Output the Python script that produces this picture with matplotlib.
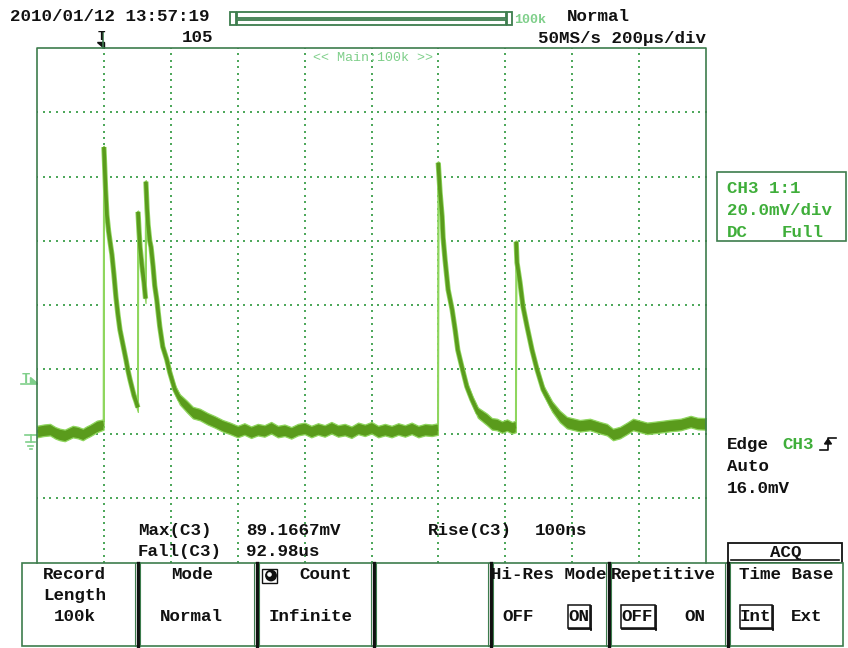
import matplotlib
matplotlib.use('Agg')
import matplotlib.pyplot as plt
import numpy as np
from matplotlib.patches import Rectangle, Polygon, Circle

# CH3 capture, 200us/div, 20mV/div, trigger at t=0
TIME_US = [
    -200, -180, -161, -145, -132, -117, -105, -93, -78, -63, -52, -42, -21, -1,
    0, 2, 5, 9, 14, 18, 24, 30, 36, 42, 48, 54, 60, 66, 72, 78, 84, 90, 96, 101.5,
    102, 105, 108, 114, 120, 124.5,
    125.5, 129, 132, 137, 141, 147, 152, 158, 167, 176, 188, 197, 212, 227, 248,
    266, 287, 310, 332, 355, 377,
    400, 420, 440, 460, 480, 500, 520, 540, 560, 580, 600, 620, 640, 660, 680,
    700, 720, 740, 760, 780, 800, 820, 840, 860, 880, 900, 920, 940, 960, 980, 998.5,
    999.5, 1002, 1005, 1011, 1014, 1020, 1029, 1041, 1050, 1058, 1070, 1085, 1100,
    1118, 1145, 1160, 1175, 1190, 1205, 1220, 1231.5,
    1232.5, 1235, 1244, 1253, 1265, 1280, 1295, 1313, 1340, 1363, 1384,
    1423, 1453, 1483, 1504, 1522, 1543, 1564, 1582, 1603, 1624, 1648, 1672, 1694,
    1724, 1754, 1775, 1800,
]
LEVEL_MV = [
    0.6, 1.0, 1.2, 0.2, -0.3, -0.6, 0.0, 0.6, 0.3, -0.3, 0.4, 0.9, 2.2, 2.8,
    89.17, 84, 76, 68, 63, 60, 55.7, 49.5, 42.5, 37, 32.3, 29.2, 26.1, 23, 19.6,
    16.8, 14.3, 11.8, 10, 8.1,
    69, 63, 58, 52, 47, 42,
    78.4, 70, 65, 60, 58, 52, 46, 41.7, 33.3, 27, 23, 19, 13.7, 10.6, 8.4,
    6.5, 5.9, 4.6, 3.6, 2.4, 1.6,
    0.6, 1.4, 0.4, 1.2, 0.8, 1.8, 0.6, 1.0, 0.2, 1.2, 1.6, 0.6, 1.4, 0.8, 1.8,
    0.8, 1.2, 0.4, 1.6, 1.0, 1.8, 0.6, 1.2, 0.6, 1.4, 0.8, 1.6, 0.6, 1.2, 1.0, 1.4,
    84.3, 80, 75, 67.5, 61, 54, 44.8, 38.6, 32.3, 26, 20.8, 14.6, 10.6,
    6.5, 4.4, 3.0, 2.8, 2.0, 2.6, 1.8, 2.2,
    59.7, 53.2, 47, 39.5, 33.3, 26, 19.9, 13.7, 8.4, 5.3, 3.4,
    2.4, 2.8, 1.8, 1.2, -0.3, 0.3, 1.6, 2.8, 2.2, 1.6, 1.9, 2.2, 2.5,
    2.8, 3.7, 3.1, 3.0,
]
# half-width of the noise band around the trace
SPREAD_MV = [
    1.8, 1.8, 1.8, 1.8, 1.8, 1.8, 1.8, 1.8, 1.8, 1.8, 1.8, 1.8, 1.8, 1.6,
    0.4, 1.2, 1.6, 1.4, 1.2, 1.2, 1.2, 1.2, 1.2, 1.0, 1.0, 1.0, 1.0, 1.0, 1.2,
    1.2, 1.2, 1.2, 1.4, 1.4,
    0.4, 1.4, 1.4, 1.2, 1.4, 1.4,
    0.4, 1.4, 1.4, 1.2, 1.2, 1.2, 1.2, 1.2, 1.2, 1.2, 1.2, 1.4, 1.4, 1.6, 1.8,
    1.8, 1.8, 1.8, 1.8, 1.8, 1.8,
    1.8, 1.8, 1.8, 1.8, 1.8, 1.8, 1.8, 1.8, 1.8, 1.8, 1.8, 1.8, 1.8, 1.8, 1.8,
    1.8, 1.8, 1.8, 1.8, 1.8, 1.8, 1.8, 1.8, 1.8, 1.8, 1.8, 1.8, 1.8, 1.8, 1.8, 1.8,
    0.4, 1.2, 1.4, 1.4, 1.2, 1.2, 1.2, 1.2, 1.2, 1.2, 1.2, 1.4, 1.4,
    1.6, 1.8, 1.8, 1.8, 1.8, 1.8, 1.8, 1.8,
    0.4, 1.2, 1.2, 1.2, 1.2, 1.2, 1.2, 1.4, 1.6, 1.8, 1.8,
    1.8, 1.8, 1.8, 1.8, 1.8, 1.8, 1.8, 1.8, 1.8, 1.8, 1.8, 1.8, 1.8,
    1.8, 1.8, 1.8, 1.8,
]

MEAS_NAMES = ["Max(C3)", "Fall(C3)", "Rise(C3)"]
MEAS_VALUES = ["89.1667mV", "92.98us", "100ns"]

MENU_TITLES = ["Record\nLength", "Mode", "Count", "", "Hi-Res Mode", "Repetitive", "Time Base"]
MENU_VALUES = ["100k", "Normal", "Infinite", "", "", "", ""]

MONO = 'Liberation Mono'
FRAME = '#3d7d4d'
DOT = '#4fa85c'
LIGHT = '#7fcf8a'
CHGREEN = '#3fae3a'
TRACE = '#5a9b1c'
TRACE_EDGE = '#8fd65e'

W, H = 848, 648
fig = plt.figure(figsize=(W / 100, H / 100), dpi=100)
fig.patch.set_facecolor('white')

# graticule area: 10 x 8 divisions
x0, x1, y0, y1 = 37, 706, 48, 562
ax = fig.add_axes([x0 / W, (H - y1) / H, (x1 - x0) / W, (y1 - y0) / H])
ax.set_xlim(-200, 1800)
ax.set_ylim(-40, 120)
ax.axis('off')

# dotted grid
for tv in range(0, 1800, 200):
    ys = np.arange(-40, 121, 2)
    ax.plot([tv] * len(ys), ys, ls='none', marker='s', ms=1.5, mew=0, color=DOT, zorder=1)
for mv in range(-20, 120, 20):
    xs = np.arange(-200, 1801, 20)
    ax.plot(xs, [mv] * len(xs), ls='none', marker='s', ms=1.5, mew=0, color=DOT, zorder=1)

t = np.array(TIME_US, dtype=float)
v = np.array(LEVEL_MV, dtype=float)
s = np.array(SPREAD_MV, dtype=float)

# fast edges stay thin, the slow parts get a thick stroke
jumps = np.where(np.abs(np.diff(v)) > 15)[0]
starts = np.concatenate([[0], jumps + 1])
ends = np.concatenate([jumps + 1, [len(t)]])
for j in jumps:
    ax.plot(t[j:j + 2], v[j:j + 2], color=TRACE_EDGE, lw=1.3, zorder=2.8)
for a, b in zip(starts, ends):
    ax.plot(t[a:b], v[a:b], color=TRACE_EDGE, lw=3.8, solid_capstyle='butt', zorder=2.9)

# noise band
ax.fill_between(t, v - s, v + s, facecolor=TRACE, edgecolor=TRACE_EDGE,
                linewidth=0.9, zorder=3)
for a, b in zip(starts, ends):
    ax.plot(t[a:b], v[a:b], color=TRACE, lw=2.6, solid_capstyle='butt', zorder=3.6)

# overlay in pixel coordinates for the screen furniture
ui = fig.add_axes([0, 0, 1, 1])
ui.set_xlim(0, W)
ui.set_ylim(H, 0)
ui.axis('off')
ui.patch.set_alpha(0)

def txt(x, y, s, color='#111111', size=12.6, ha='left', **kw):
    ui.text(x, y, s, color=color, fontsize=size, family=MONO, weight='bold',
            ha=ha, va='baseline', **kw)

def box(x, y, w, h, color=FRAME, lw=1.1, z=2):
    ui.add_patch(Rectangle((x, y), w, h, fill=False, edgecolor=color, lw=lw, zorder=z))

# header
txt(10, 21, "2010/01/12 13:57:19")
txt(213, 41.5, "105", ha='right')
txt(567, 21, "Normal")
txt(706, 42.5, "50MS/s 200µs/div", ha='right')

# record length bar
box(230, 12, 6, 13, lw=1.3)
box(237, 12, 269, 6, lw=1.3)
box(237, 19.5, 269, 5.5, lw=1.3)
box(507, 12, 5, 13, lw=1.3)
txt(514, 23, "100k", color=LIGHT, size=9.6)

# trigger position marker
ui.plot([103, 103], [32, 48], color=FRAME, lw=1.2)
txt(98, 40, "T", size=9)
ui.add_patch(Polygon([[97, 42], [104, 42], [104, 47.5]], closed=True, color='#111111'))

# graticule frame
ui.plot([x0, x0, x1, x1], [563, y0, y0, 563], color=FRAME, lw=1.2, zorder=4)
ui.text(373, 61, "<< Main:100k >>", color=LIGHT, fontsize=9.6, family=MONO,
        ha='center', va='baseline')

# trigger level and ground markers on the left
txt(21.5, 383, "T", color=LIGHT, size=10)
ui.add_patch(Polygon([[29.5, 376.5], [29.5, 383.3], [36.7, 383.3]], closed=True, color=LIGHT))
ui.plot([20.5, 37], [384, 384], color=LIGHT, lw=1.2)
ui.plot([25, 37], [435, 435], color=LIGHT, lw=1.2)
ui.plot([30.7, 30.7], [435, 442], color=LIGHT, lw=1.2)
ui.plot([26, 35], [442, 442], color=LIGHT, lw=1.2)
ui.plot([27.7, 33.3], [445.5, 445.5], color=LIGHT, lw=1.2)
ui.plot([29.5, 31.5], [448.5, 448.5], color=LIGHT, lw=1.2)

# channel info
box(717, 171.5, 129, 69.5, lw=1.2)
txt(727, 193, "CH3 1:1", color=CHGREEN)
txt(727, 215, "20.0mV/div", color=CHGREEN)
txt(727, 237, "DC", color=CHGREEN)
txt(782, 237, "Full", color=CHGREEN)

# trigger settings
txt(727, 449, "Edge")
txt(782, 449, "CH3", color=CHGREEN)
ui.plot([820, 828, 828, 836], [450, 450, 437.5, 437.5], color='#111111', lw=1.2)
ui.add_patch(Polygon([[824.5, 444], [831.5, 444], [828, 439]], closed=True, color='#111111'))
txt(727, 471, "Auto")
txt(727, 493, "16.0mV")

# measurements
txt(138, 535, MEAS_NAMES[0])
txt(246, 535, MEAS_VALUES[0])
txt(138, 556, MEAS_NAMES[1])
txt(246, 556, MEAS_VALUES[1])
txt(428, 535, MEAS_NAMES[2])
txt(535, 535, MEAS_VALUES[2])

# ACQ tab
ui.add_patch(Rectangle((728, 543), 114, 20, facecolor='white', edgecolor='#111111', lw=1.3, zorder=2))
ui.plot([731, 839], [559.5, 559.5], color='#111111', lw=1.2, zorder=3)
txt(786, 557.5, "ACQ", ha='center')

# soft-key menu
edges = [22, 137.5, 256.5, 373.5, 490.5, 608.5, 727.5, 843]
ui.add_patch(Rectangle((22, 563), 821, 83, facecolor='white', edgecolor=FRAME, lw=1.2, zorder=2))
for xe in edges[1:-1]:
    ui.plot([xe, xe], [563, 646], color='#111111', lw=2.4, zorder=3)
    ui.plot([xe - 2.5, xe - 2.5], [563, 646], color=FRAME, lw=0.8, zorder=3)
    ui.plot([xe + 2.5, xe + 2.5], [563, 646], color=FRAME, lw=0.8, zorder=3)

txt(74.5, 579, "Record", ha='center')
txt(74.5, 600, "Length", ha='center')
txt(74.5, 621, MENU_VALUES[0], ha='center')
txt(192.5, 579, MENU_TITLES[1], ha='center')
txt(191.5, 621, MENU_VALUES[1], ha='center')
txt(325.5, 579, MENU_TITLES[2], ha='center')
txt(311, 621, MENU_VALUES[2], ha='center')
box(262, 568.5, 15, 14, color='#111111', lw=1.0, z=4)
ui.add_patch(Circle((271, 575.5), 5.2, color='#111111', zorder=5))
ui.add_patch(Circle((269.5, 574.5), 1.6, color='white', zorder=6))

txt(491, 579, MENU_TITLES[4])
txt(611, 579, MENU_TITLES[5])
txt(786.5, 579, MENU_TITLES[6], ha='center')

def boxed(x, w, label):
    box(x, 605, w, 23, color='#111111', lw=1.1, z=4)
    ui.plot([x + w + 1.3, x + w + 1.3], [606, 629.5], color='#111111', lw=1.3, zorder=4)
    ui.plot([x + 1, x + w + 1.3], [629.3, 629.3], color='#111111', lw=1.3, zorder=4)
    txt(x + w / 2, 621, label, ha='center')

txt(518, 621, "OFF", ha='center')
boxed(567.5, 22.5, "ON")
boxed(620.5, 34, "OFF")
txt(695, 621, "ON", ha='center')
boxed(739.5, 32, "Int")
txt(807, 621, "Ext", ha='center')

fig.savefig('out.png', dpi=100, facecolor='white')
plt.close(fig)
